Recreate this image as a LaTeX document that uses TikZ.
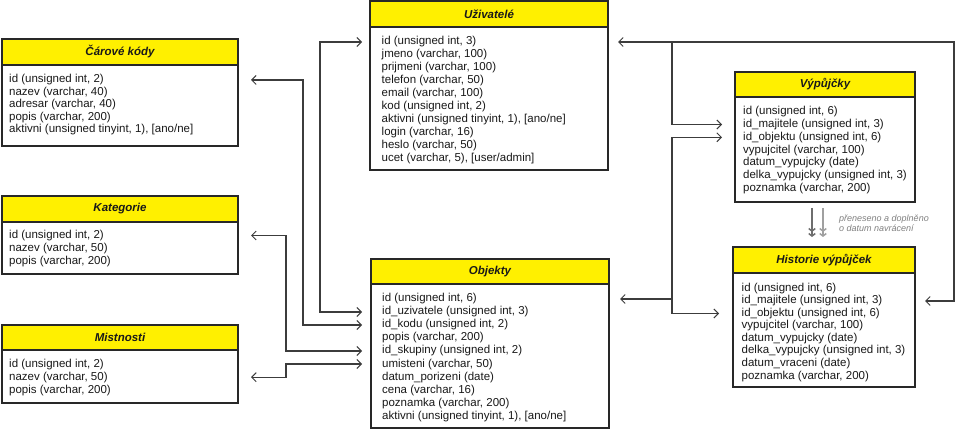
\documentclass[tikz,border=0pt]{standalone}
\usepackage{fontspec}
\setmainfont{Liberation Sans}
\usetikzlibrary{calc,arrows.meta}
\definecolor{hdr}{RGB}{255,240,0}
\definecolor{edge}{RGB}{40,40,40}
\definecolor{wire}{RGB}{60,60,60}
\definecolor{note}{RGB}{128,128,128}
\definecolor{ink}{RGB}{25,25,25}
\definecolor{grayA}{RGB}{110,110,110}
\definecolor{grayB}{RGB}{160,160,160}
\tikzset{
  tbox/.style={draw=edge, line width=1.4pt, fill=white, rectangle, inner sep=0pt, outer sep=0pt},
  thead/.style={draw=edge, line width=1.4pt, fill=hdr, rectangle, inner sep=0pt, outer sep=0pt,
    font=\fontsize{11.5}{13}\selectfont\bfseries\itshape, text=ink},
  trow/.style={anchor=west, inner sep=0pt, text height=8.5pt, text depth=2.5pt,
    font=\fontsize{11.5}{13}\selectfont, text=ink},
  conn/.style={draw=wire, line width=1.2pt},
  movearrow/.style={line width=1.3pt,
    -{Straight Barb[length=2.5pt,width=6.5pt,line width=1.5pt,sep=0.8pt]Straight Barb[length=2.5pt,width=6.5pt,line width=1.5pt]}},
  notetext/.style={anchor=west, align=left, inner sep=0pt, text=note,
    font=\fontsize{9}{9.6}\selectfont\itshape},
  >={Straight Barb[length=4.5pt,width=9pt,line width=1pt]}
}
% name, x, y, width, bottom, header height, padding, title, rows
\newcommand\dbtab[9]{%
  \node[tbox, anchor=north west, minimum width=#4, minimum height={#5-#3}] (#1) at (#2,#3) {};
  \node[thead, anchor=north west, minimum width=#4, minimum height=#6] (#1-h) at (#2,#3) {#8};
  \foreach \rowtxt [count=\i] in {#9} {%
    \node[trow] (#1-\i) at ({#2+#7},{#3+#6+\rowfirst+\rowsp*(\i-1)}) {\rowtxt};}%
}
\begin{document}
\begin{tikzpicture}[x=1pt,y=-1pt]
\useasboundingbox (0,0) rectangle (956,430);

\def\rowfirst{15}\def\rowsp{12.35}
\dbtab{ck}{2}{39}{236}{146}{26}{7}{Čárové kódy}{{id (unsigned int, 2)},{nazev (varchar, 40)},{adresar (varchar, 40)},{popis (varchar, 200)},{aktivni (unsigned tinyint, 1), [ano/ne]}}

\def\rowfirst{13.5}\def\rowsp{13.2}
\dbtab{ka}{2}{196}{236}{274}{26}{7}{Kategorie}{{id (unsigned int, 2)},{nazev (varchar, 50)},{popis (varchar, 200)}}

\def\rowfirst{14}\def\rowsp{13.2}
\dbtab{mi}{2}{325}{236}{403}{25}{7}{Mistnosti}{{id (unsigned int, 2)},{nazev (varchar, 50)},{popis (varchar, 200)}}

\def\rowfirst{15}\def\rowsp{12.9}
\dbtab{uz}{370}{1}{238}{170}{26}{11.5}{Uživatelé}{{id (unsigned int, 3)},{jmeno (varchar, 100)},{prijmeni (varchar, 100)},{telefon (varchar, 50)},{email (varchar, 100)},{kod (unsigned int, 2)},{aktivni (unsigned tinyint, 1), [ano/ne]},{login (varchar, 16)},{heslo (varchar, 50)},{ucet (varchar, 5), [user/admin]}}

\def\rowfirst{15}\def\rowsp{13.0}
\dbtab{ob}{371}{259}{238}{428}{25}{11}{Objekty}{{id (unsigned int, 6)},{id\_uzivatele (unsigned int, 3)},{id\_kodu (unsigned int, 2)},{popis (varchar, 200)},{id\_skupiny (unsigned int, 2)},{umisteni (varchar, 50)},{datum\_porizeni (date)},{cena (varchar, 16)},{poznamka (varchar, 200)},{aktivni (unsigned tinyint, 1), [ano/ne]}}

\def\rowfirst{14.7}\def\rowsp{12.8}
\dbtab{vy}{735}{72}{180}{202}{25}{8}{Výpůjčky}{{id (unsigned int, 6)},{id\_majitele (unsigned int, 3)},{id\_objektu (unsigned int, 6)},{vypujcitel (varchar, 100)},{datum\_vypujcky (date)},{delka\_vypujcky (unsigned int, 3)},{poznamka (varchar, 200)}}

\def\rowfirst{15.5}\def\rowsp{12.5}
\dbtab{hi}{733}{247}{182}{387}{26}{8.5}{Historie výpůjček}{{id (unsigned int, 6)},{id\_majitele (unsigned int, 3)},{id\_objektu (unsigned int, 6)},{vypujcitel (varchar, 100)},{datum\_vypujcky (date)},{delka\_vypujcky (unsigned int, 3)},{datum\_vraceni (date)},{poznamka (varchar, 200)}}

% left connectors
\draw[conn,<->] ($(uz.west|-uz-1)+(-8,0)$) -- ++(-42,0) |- ($(ob.west|-ob-2)+(-9,0)$);
\draw[conn,<->] ($(ck.east|-ck-1)+(13,0)$) -- ++(52,0) |- ($(ob.west|-ob-3)+(-9,0)$);
\draw[conn,<->] ($(ka.east|-ka-1)+(13,0)$) -- ++(35,0) |- ($(ob.west|-ob-5)+(-9,0)$);
\draw[conn,<->] ($(mi.east|-mi-2)+(13,0)$) -- ++(35,0) |- ($(ob.west|-ob-6)+(-9,0)$);

% right connectors
\coordinate (j1) at ($(uz.east|-uz-1)+(64,0)$);
\draw[conn,<->] ($(uz.east|-uz-1)+(10,0)$) -- ($(hi.east|-uz-1)+(39,0)$) |- ($(hi.east|-hi-2)+(10,0)$);
\draw[conn,->] (j1) |- ($(vy.west|-vy-2)+(-13,0)$);
\coordinate (j2) at ($(ob.east|-ob-1)+(63,0)$);
\draw[conn,<-] ($(ob.east|-ob-1)+(11,0)$) -- (j2);
\draw[conn,->] (j2) |- ($(vy.west|-vy-3)+(-13,0)$);
\draw[conn,->] (j2) |- ($(hi.west|-hi-3)+(-14,0)$);

% transfer arrows and note
\draw[movearrow, draw=grayA] ($(vy.south west)+(77,6)$) -- ($(hi.north west)+(79,-10)$);
\draw[movearrow, draw=grayB] ($(vy.south west)+(88,6)$) -- ($(hi.north west)+(90,-10)$);
\node[notetext] (nt) at (839,223.5) {přeneseno a doplněno\\o datum navrácení};
\end{tikzpicture}
\end{document}
